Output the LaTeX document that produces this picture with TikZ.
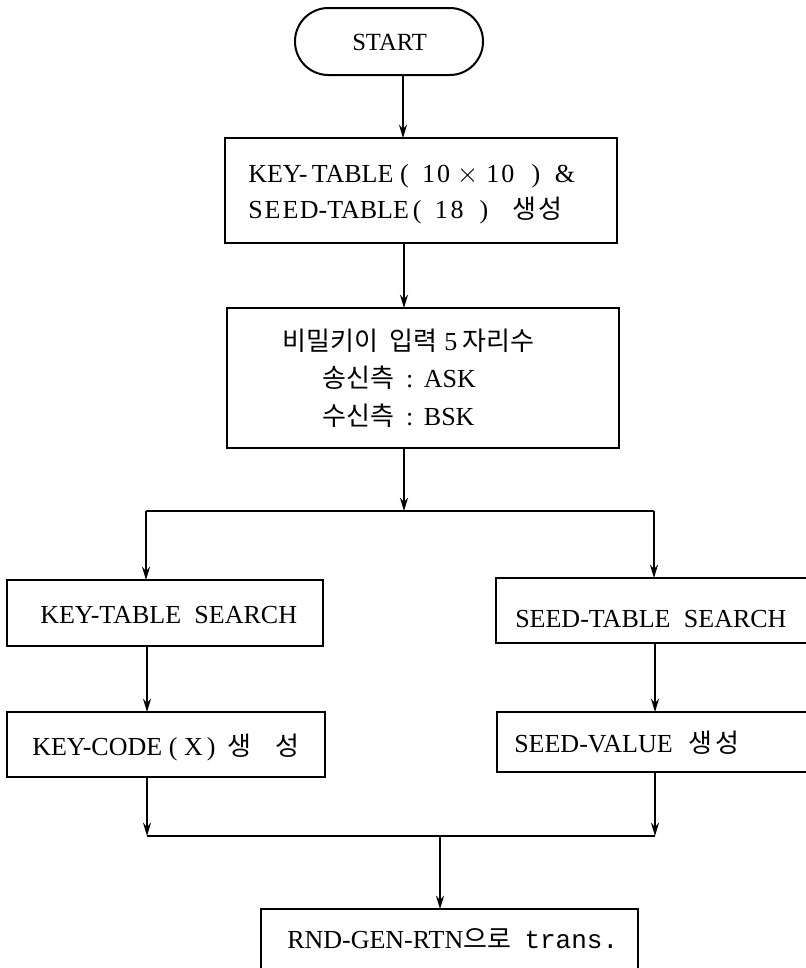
\documentclass[tikz,border=0pt]{standalone}
\usepackage{fontspec}
\setmainfont{Liberation Serif}
\newfontfamily\kr{Noto Sans CJK KR}
\newfontfamily\mono{Liberation Mono}
\usetikzlibrary{arrows.meta}

\begin{document}
\begin{tikzpicture}[x=0.75pt,y=-0.75pt,
  box/.style={draw, line width=1.5pt, inner sep=0pt, outer sep=0pt},
  term/.style={box, rounded corners=25pt},
  lbl/.style={anchor=base west, inner sep=0pt, font=\fontsize{19.5}{23}\selectfont},
  link/.style={line width=1.5pt},
  arr/.style={link, -{Stealth[length=10pt,width=6pt]}}]
\useasboundingbox (0,0) rectangle (806,968);
\clip (0,0) rectangle (806,968);

% process boxes
\node[term, minimum width=188*0.75pt, minimum height=67*0.75pt] (start) at (389,41.5) {};
\node[box, minimum width=392*0.75pt, minimum height=105*0.75pt] (tbl) at (421,190.5) {};
\node[box, minimum width=392*0.75pt, minimum height=140*0.75pt] (inp) at (423,378) {};
\node[box, minimum width=316*0.75pt, minimum height=66*0.75pt] (kts) at (165,613) {};
\node[box, minimum width=318*0.75pt, minimum height=65*0.75pt] (kc) at (166,744.5) {};
\node[box, minimum width=334*0.75pt, minimum height=65*0.75pt] (sts) at (663,610.5) {};
\node[box, minimum width=333*0.75pt, minimum height=60*0.75pt] (sv) at (663.5,742) {};
\node[box, minimum width=377*0.75pt, minimum height=91*0.75pt] (rnd) at (449.5,954.5) {};

% texts
\node[lbl, font=\fontsize{18.5}{22}\selectfont] (startt) at (352,50) {START};
\node[lbl] (tbla) at (248,182) {KEY-\,TABLE\hspace{5pt}(\hspace{10pt}1\hspace{1.5pt}0\hspace{5pt}$\times$\hspace{6pt}1\hspace{1.5pt}0\hspace{13pt})\hspace{11pt}\&};
\node[lbl] (tblb) at (248,218) {S\hspace{1.5pt}E\hspace{1.5pt}E\hspace{1pt}D-TABLE\hspace{3pt}(\hspace{10pt}1\hspace{2pt}8\hspace{12pt})\hspace{18pt}{\kr 생\hspace{2pt}성}};
\node[lbl] (inpa) at (282,350) {{\kr 비밀키이}\hspace{9pt}{\kr 입력}\hspace{5pt}5\hspace{4pt}{\kr 자리수}};
\node[lbl] (inpb) at (322,387) {{\kr 송신측}\hspace{9pt}:\hspace{8pt}ASK};
\node[lbl] (inpc) at (322,425) {{\kr 수신측}\hspace{9pt}:\hspace{8pt}BSK};
\node[lbl] (ktst) at (40,623) {KEY-TABLE\hspace{10pt}SEARCH};
\node[lbl] (kct) at (32,755) {KEY-CODE\hspace{5pt}(\hspace{5pt}X\hspace{3pt})\hspace{9pt}{\kr 생\hspace{18pt}성}};
\node[lbl] (stst) at (515,627) {SEED-TABLE\hspace{10pt}SEARCH};
\node[lbl] (svt) at (514,752) {SEED-VALUE\hspace{12pt}{\kr 생\hspace{2pt}성}};
\node[lbl] (rndt) at (287,948) {RND-GEN-RTN{\kr 으로}\hspace{10pt}{\mono trans.}};

% branch and merge points
\coordinate (split) at (404,511);
\coordinate (bl) at (146,511);
\coordinate (br) at (654,511);
\coordinate (ml) at (147,836);
\coordinate (mr) at (655,836);
\coordinate (merge) at (440,836);

% main spine
\draw[arr] (403,0 |- start.south) -- (403,0 |- tbl.north);
\draw[arr] (404,0 |- tbl.south) -- (404,0 |- inp.north);
\draw[arr] (inp.south -| split) -- (split);
\draw[link] (bl) -- (br);
\draw[arr] (bl) -- (kts.north -| bl);
\draw[arr] (br) -- (sts.north -| br);

% left column
\draw[arr] (kts.south -| ml) -- (kc.north -| ml);
\draw[arr] (kc.south -| ml) -- (ml);

% right column
\draw[arr] (sts.south -| mr) -- (sv.north -| mr);
\draw[arr] (sv.south -| mr) -- (mr);

% merge
\draw[link] (ml) -- (mr);
\draw[arr] (merge) -- (rnd.north -| merge);
\end{tikzpicture}
\end{document}
